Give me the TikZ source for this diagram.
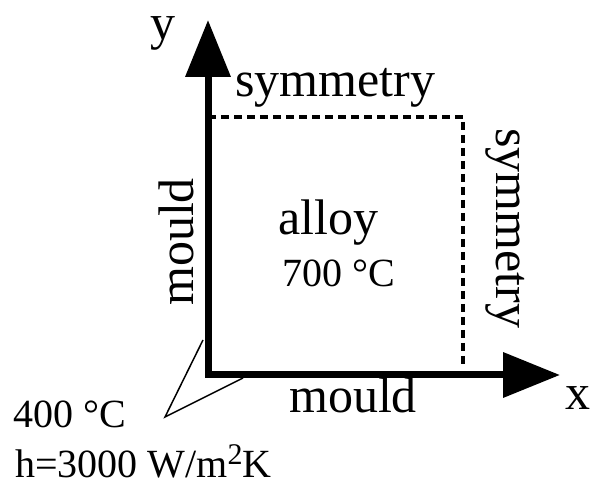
\documentclass[tikz,border=0pt]{standalone}
\usepackage{fontspec}
\setmainfont{Liberation Serif}
\usepackage{tikz}
\usetikzlibrary{arrows.meta}
\tikzset{
  biglbl/.style={font=\fontsize{50}{50}\selectfont, inner sep=0pt},
  smalllbl/.style={font=\fontsize{40}{40}\selectfont, inner sep=0pt},
  axis/.style={line width=7pt, line join=miter,
    {Triangle[length=57pt,width=44pt]}-{Triangle[length=57pt,width=44pt]}},
  symline/.style={line width=4pt, dash pattern=on 8pt off 5pt},
  callout/.style={line width=1.5pt, line join=miter}
}
\newcommand{\supsq}{\raisebox{13pt}{\fontsize{30}{30}\selectfont 2}}
\begin{document}
\begin{tikzpicture}[x=1pt,y=-1pt]
  \useasboundingbox (0,0) rectangle (590,486);
  % corner points
  \coordinate (O) at (208,375);
  \coordinate (ytip) at (208,20);
  \coordinate (xtip) at (560,375);
  \coordinate (ctop) at (208,117);
  \coordinate (ccorner) at (463,117);
  \coordinate (cbot) at (463,368);
  % callout to boundary values
  \coordinate (cin) at (203,340);
  \coordinate (cout) at (243,378);
  \coordinate (cpt) at (165,417);
  \draw[callout] (cin) -- (cpt) -- (cout);
  % symmetry lines
  \draw[symline] (ctop) -- (ccorner) -- (cbot);
  % axes
  \draw[axis] (ytip) -- (O) -- (xtip);
  % labels
  \node[biglbl] (ylbl) at (163,33) {y};
  \node[biglbl] (xlbl) at (578,398) {x};
  \node[biglbl, anchor=base] (symtop) at (335,97) {symmetry};
  \node[biglbl, rotate=-90] (symright) at (505,228) {symmetry};
  \node[biglbl, rotate=90] (mouldleft) at (176,242) {mould};
  \node[biglbl, anchor=base] (mouldbot) at (353,413) {mould};
  \node[biglbl, anchor=base] (alloy) at (328,235) {alloy};
  \node[smalllbl, anchor=base] (alloyT) at (339,287) {700 °C};
  \node[smalllbl, anchor=base west] (mouldT) at (13,428) {400 °C};
  \node[smalllbl, anchor=base west] (mouldh) at (15,478) {h=3000 W/m\supsq K};
\end{tikzpicture}
\end{document}
